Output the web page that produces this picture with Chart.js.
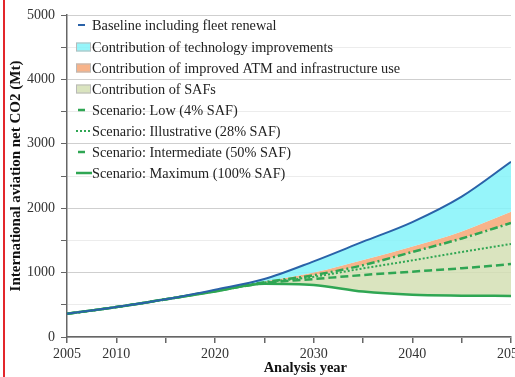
<!DOCTYPE html>
<html>
<head>
<meta charset="utf-8">
<title>International aviation net CO2</title>
<script src="https://cdn.jsdelivr.net/npm/chart.js@4.4.1/dist/chart.umd.min.js"></script>
<style>
  html, body { margin: 0; padding: 0; background: #fff; }
  #wrap { position: relative; width: 515px; height: 377px; }
  #wrap::before { content: ""; position: absolute; left: 3px; top: 0; bottom: 0; width: 2px; background: #e3262b; }
  canvas { display: block; }
</style>
</head>
<body>
<div id="wrap"><canvas id="co2Chart" width="515" height="377"></canvas></div>
<script>
// ---- data (Mt CO2 per analysis year) ----
const years = [2005, 2010, 2015, 2020, 2025, 2030, 2035, 2040, 2045, 2050];
const baseline        = [360, 465, 585, 735, 900, 1175, 1480, 1785, 2180, 2720];
const afterTechnology = [360, 465, 585, 725, 860, 1000, 1195, 1405, 1640, 1945];
const lowSAF          = [360, 465, 585, 718, 850,  960, 1115, 1320, 1530, 1770];
const illustrativeSAF = [360, 465, 585, 714, 845,  935, 1065, 1190, 1320, 1445];
const intermediateSAF = [360, 465, 585, 712, 838,  900,  962, 1015, 1068, 1132];
const maximumSAF      = [360, 465, 585, 705, 828,  808,  705,  655,  642,  638];

const yTickLabels = [0, 1000, 2000, 3000, 4000, 5000];
const xTickLabels = [2005, 2010, 2020, 2030, 2040, 2050];

const serif = '"Liberation Serif", "Times New Roman", serif';
const blue = '#2a62a8';
const green = '#2fa653';

function points(values) {
  return years.map((yr, i) => ({ x: yr, y: values[i] }));
}

const common = { pointRadius: 0, pointHoverRadius: 0, cubicInterpolationMode: 'monotone' };

const datasets = [
  { ...common, label: 'Baseline including fleet renewal', data: points(baseline),
    borderColor: blue, borderWidth: 2, fill: false, legendMark: 'dash' },
  { ...common, label: 'Contribution of technology improvements', data: points(afterTechnology),
    borderWidth: 0, borderColor: 'rgba(0,0,0,0)', backgroundColor: 'rgba(132,243,249,0.85)', fill: 0, legendMark: 'box' },
  { ...common, label: 'Contribution of improved ATM and infrastructure use', data: points(lowSAF),
    borderWidth: 0, borderColor: 'rgba(0,0,0,0)', backgroundColor: 'rgba(246,168,122,0.88)', fill: '-1', legendMark: 'box' },
  { ...common, label: 'Contribution of SAFs', data: points(maximumSAF),
    borderWidth: 0, borderColor: 'rgba(0,0,0,0)', backgroundColor: 'rgba(212,223,180,0.85)', fill: '-1', legendMark: 'box' },
  { ...common, label: 'Scenario: Low (4% SAF)', data: points(lowSAF),
    borderColor: green, borderWidth: 2.5, borderDash: [8, 3, 2, 3], fill: false, legendMark: 'dash' },
  { ...common, label: 'Scenario: Illustrative (28% SAF)', data: points(illustrativeSAF),
    borderColor: green, borderWidth: 2, borderDash: [2, 2], fill: false, legendMark: 'line' },
  { ...common, label: 'Scenario: Intermediate (50% SAF)', data: points(intermediateSAF),
    borderColor: green, borderWidth: 2.5, borderDash: [8, 4], fill: false, legendMark: 'dash' },
  { ...common, label: 'Scenario: Maximum (100% SAF)', data: points(maximumSAF),
    borderColor: green, borderWidth: 2.5, fill: false, legendMark: 'line' }
];

// legend drawn inside the plot, top-left, like the original figure
const insideLegend = {
  id: 'insideLegend',
  afterDraw(chart) {
    const ctx = chart.ctx;
    ctx.save();
    ctx.font = '14.3px ' + serif;
    ctx.textBaseline = 'middle';
    chart.data.datasets.forEach((ds, i) => {
      const y = i === 0 ? 25 : 26 + 21 * i;
      if (ds.legendMark === 'box') {
        ctx.fillStyle = ds.backgroundColor;
        ctx.fillRect(76, y - 4.5, 15, 9);
        ctx.strokeStyle = '#b9b9b9';
        ctx.lineWidth = 1;
        ctx.strokeRect(76.5, y - 4, 14, 8);
      } else {
        ctx.strokeStyle = ds.borderColor;
        ctx.lineWidth = ds.borderWidth;
        ctx.setLineDash(ds.legendMark === 'line' ? (ds.borderDash || []) : []);
        ctx.beginPath();
        if (ds.legendMark === 'dash') {
          ctx.moveTo(78, y); ctx.lineTo(85, y);
        } else {
          ctx.moveTo(76, y); ctx.lineTo(92, y);
        }
        ctx.stroke();
        ctx.setLineDash([]);
      }
      ctx.fillStyle = '#222';
      ctx.fillText(ds.label, 92, y + 1);
    });
    ctx.restore();
  }
};

new Chart(document.getElementById('co2Chart'), {
  type: 'line',
  data: { datasets },
  plugins: [insideLegend],
  options: {
    responsive: false,
    animation: false,
    devicePixelRatio: 1,
    layout: { padding: { top: 15, right: 4, bottom: 0, left: 0 } },
    plugins: {
      legend: { display: false },
      tooltip: { enabled: false },
      // all fills go under every line
      filler: { propagate: false, drawTime: 'beforeDatasetsDraw' }
    },
    scales: {
      x: {
        type: 'linear',
        min: 2005,
        max: 2050,
        afterBuildTicks: s => { s.ticks = years.map(v => ({ value: v })); },
        afterFit: s => { s.height = 40; s.paddingLeft = 0; s.paddingRight = 0; },
        ticks: {
          autoSkip: false,
          maxRotation: 0,
          padding: 3,
          color: '#333',
          font: { family: serif, size: 14 },
          callback: v => xTickLabels.includes(v) ? String(v) : ''
        },
        grid: { drawOnChartArea: false, tickLength: 6, tickColor: '#666', lineWidth: 1.5 },
        border: { color: '#666', width: 1.5 },
        title: {
          display: true,
          text: '         Analysis year',
          color: '#111',
          font: { family: serif, size: 14.5, weight: 'bold' },
          padding: { top: 0, bottom: 0 }
        }
      },
      y: {
        min: 0,
        max: 5000,
        afterBuildTicks: s => {
          const t = [];
          for (let v = 0; v <= 5000; v += 500) t.push({ value: v });
          s.ticks = t;
        },
        afterFit: s => { s.width = 67; s.paddingTop = 0; s.paddingBottom = 0; },
        ticks: {
          autoSkip: false,
          padding: 6,
          color: '#333',
          font: { family: serif, size: 14 },
          callback: v => yTickLabels.includes(v) ? String(v) : ''
        },
        grid: {
          tickLength: 6,
          tickColor: '#666',
          lineWidth: 1,
          color: ctx => (ctx.tick && ctx.tick.value % 1000 === 0) ? '#cfcfcf' : '#ececec'
        },
        border: { color: '#666', width: 1.5 },
        title: {
          display: true,
          text: 'International aviation net CO2 (Mt)',
          color: '#111',
          font: { family: serif, size: 15, weight: 'bold' },
          padding: { top: 7, bottom: 0 }
        }
      }
    }
  }
});
</script>
</body>
</html>
